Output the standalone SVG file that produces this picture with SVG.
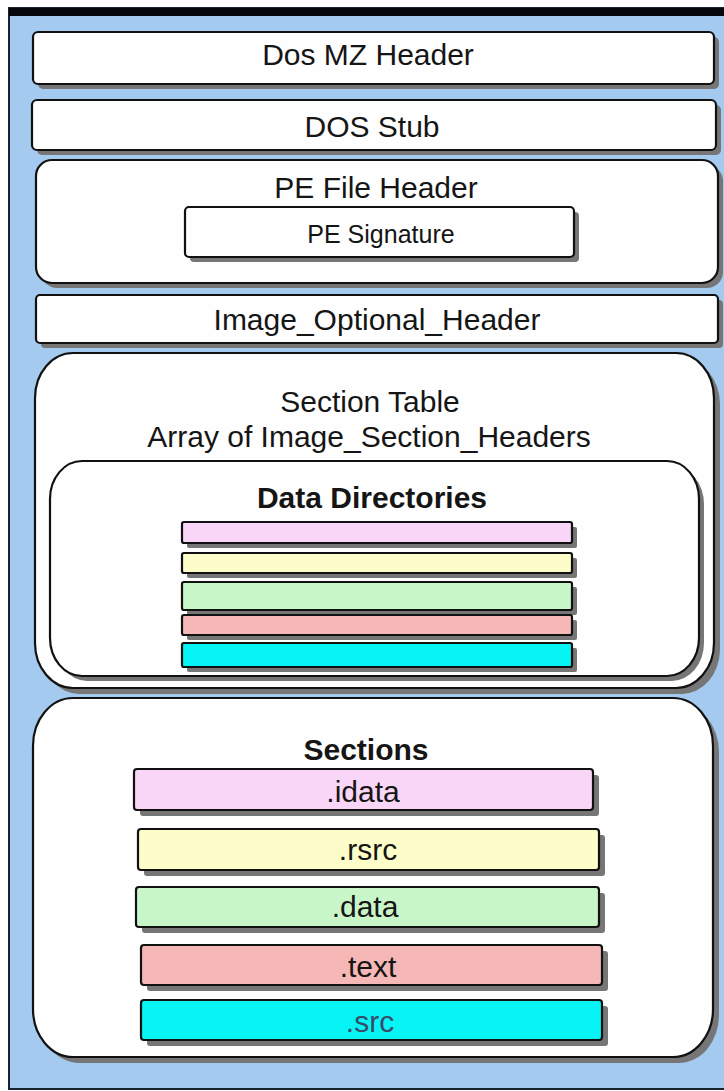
<svg xmlns="http://www.w3.org/2000/svg" width="724" height="1091" viewBox="0 0 724 1091">
<style>
.box{stroke:#111;stroke-width:2.2}
.w{fill:#fefefe}
.sh{fill:#767676;stroke:none}
.t{font-family:"Liberation Sans",Arial,sans-serif;font-size:30px;fill:#151515;text-anchor:middle}
.b{font-weight:bold}
.s{font-size:25px}
.pink{fill:#f9d6f7}
.yel{fill:#fdfdc9}
.grn{fill:#c9f6c9}
.red{fill:#f6b8b6}
.cyan{fill:#06f4f4}
</style>
<rect x="0" y="0" width="724" height="1091" fill="#ffffff"/>
<rect x="9" y="8" width="720" height="1081" fill="#a4cbef" stroke="#1a2230" stroke-width="2"/>
<rect x="9" y="8" width="715" height="8" fill="#05070c"/>

<g id="dos-mz-header">
<rect class="sh" x="38" y="37" width="681" height="52" rx="5"/>
<rect class="box w" x="33" y="32" width="681" height="52" rx="5"/>
<text class="t" x="368" y="65">Dos MZ Header</text>
</g>

<g id="dos-stub">
<rect class="sh" x="37" y="105" width="684" height="50" rx="5"/>
<rect class="box w" x="32" y="100" width="684" height="50" rx="5"/>
<text class="t" x="372" y="137">DOS Stub</text>
</g>

<g id="pe-file-header">
<rect class="sh" x="41" y="165" width="682" height="123" rx="16"/>
<rect class="box w" x="36" y="160" width="682" height="123" rx="16"/>
<text class="t" x="376" y="198">PE File Header</text>
<g id="pe-signature">
<rect class="sh" x="190" y="212" width="389" height="50" rx="4"/>
<rect class="box w" x="185" y="207" width="389" height="50" rx="4"/>
<text class="t s" x="381" y="243">PE Signature</text>
</g>
</g>

<g id="image-optional-header">
<rect class="sh" x="41" y="300" width="682" height="48" rx="4"/>
<rect class="box w" x="36" y="295" width="682" height="48" rx="4"/>
<text class="t" x="377" y="330">Image_Optional_Header</text>
</g>

<g id="section-table">
<rect class="sh" x="41" y="359" width="679" height="335" rx="38" ry="45"/>
<rect class="box w" x="35" y="353" width="679" height="335" rx="38" ry="45"/>
<text class="t" x="370" y="412">Section Table</text>
<text class="t" x="369" y="447">Array of Image_Section_Headers</text>
<g id="data-directories">
<rect class="sh" x="55" y="466" width="649" height="215" rx="32" ry="38"/>
<rect class="box w" x="50" y="461" width="649" height="215" rx="32" ry="38"/>
<text class="t b" x="372" y="508">Data Directories</text>
<g id="dd-1"><rect class="sh" x="187" y="527" width="390" height="21" rx="2"/><rect class="box pink" x="182" y="522" width="390" height="21" rx="2"/></g>
<g id="dd-2"><rect class="sh" x="187" y="558" width="390" height="20" rx="2"/><rect class="box yel" x="182" y="553" width="390" height="20" rx="2"/></g>
<g id="dd-3"><rect class="sh" x="187" y="587" width="390" height="28" rx="2"/><rect class="box grn" x="182" y="582" width="390" height="28" rx="2"/></g>
<g id="dd-4"><rect class="sh" x="187" y="620" width="390" height="20" rx="2"/><rect class="box red" x="182" y="615" width="390" height="20" rx="2"/></g>
<g id="dd-5"><rect class="sh" x="187" y="648" width="390" height="24" rx="2"/><rect class="box cyan" x="182" y="643" width="390" height="24" rx="2"/></g>
</g>
</g>

<g id="sections">
<rect class="sh" x="39" y="704" width="680" height="359" rx="40" ry="48"/>
<rect class="box w" x="33" y="698" width="680" height="359" rx="40" ry="48"/>
<text class="t b" x="366" y="760">Sections</text>
<g id="sec-idata"><rect class="sh" x="140" y="775" width="459" height="41" rx="3"/><rect class="box pink" x="134" y="769" width="459" height="41" rx="3"/><text class="t" x="363" y="802">.idata</text></g>
<g id="sec-rsrc"><rect class="sh" x="144" y="835" width="461" height="41" rx="3"/><rect class="box yel" x="138" y="829" width="461" height="41" rx="3"/><text class="t" x="368" y="860">.rsrc</text></g>
<g id="sec-data"><rect class="sh" x="142" y="893" width="463" height="40" rx="3"/><rect class="box grn" x="136" y="887" width="463" height="40" rx="3"/><text class="t" x="365" y="917">.data</text></g>
<g id="sec-text"><rect class="sh" x="147" y="951" width="461" height="40" rx="3"/><rect class="box red" x="141" y="945" width="461" height="40" rx="3"/><text class="t" x="368" y="977">.text</text></g>
<g id="sec-src"><rect class="sh" x="147" y="1006" width="461" height="40" rx="3"/><rect class="box cyan" x="141" y="1000" width="461" height="40" rx="3"/><text class="t" x="370" y="1032" style="fill:#3a4a6a">.src</text></g>
</g>

<g id="connectors"></g>
</svg>
